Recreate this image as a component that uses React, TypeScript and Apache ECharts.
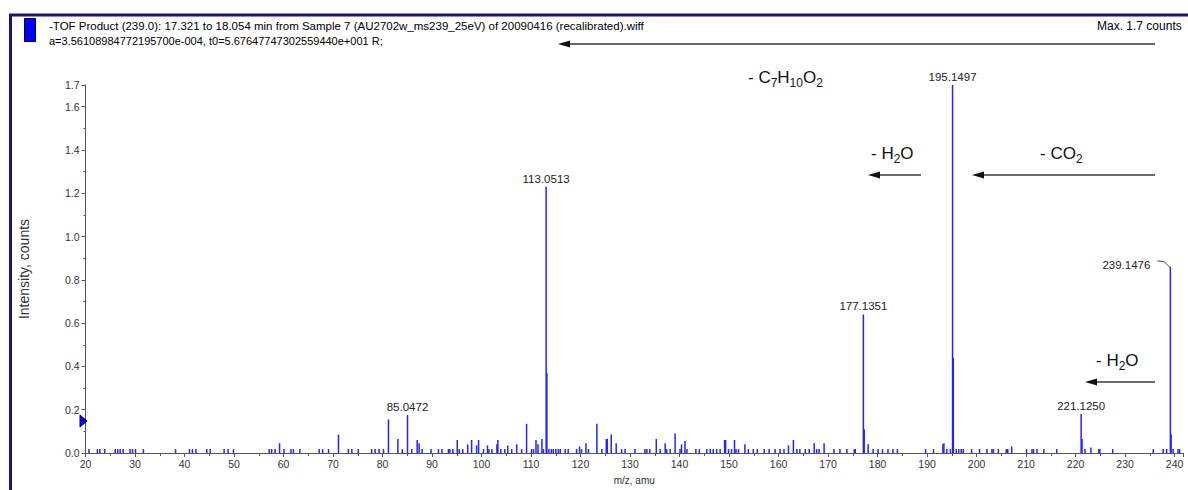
import React, { useEffect, useRef } from "react";
import * as echarts from "echarts";

// Product-ion spectrum of m/z 239.0 (TOF MS/MS)
const peakMz: number[] = [
  20.7, 22.4, 22.9, 23.9, 26.0, 26.5, 27.0, 27.6, 29.0, 29.5, 30.1, 31.7, 38.2,
  41.0, 41.6, 42.3, 44.5, 45.2, 48.0, 48.8, 49.9, 57.1, 57.6, 58.3, 59.2, 60.1,
  61.5, 62.0, 63.3, 67.2, 67.9, 69.1, 71.1, 73.1, 73.8, 75.1, 77.8, 78.5, 79.3,
  80.2, 81.2, 83.1, 84.0, 85.0472, 85.9, 87.0, 87.4, 88.0, 89.8, 91.3, 92.0,
  93.3, 93.6, 94.2, 95.1, 95.5, 96.2, 97.2, 98.0, 99.0, 99.4, 100.4, 101.2,
  101.5, 102.1, 103.1, 103.3, 103.9, 104.7, 105.3, 106.1, 107.1, 108.1, 109.1,
  110.1, 110.5, 111.0, 111.4, 112.2, 112.5, 113.0513, 113.2, 113.6, 114.1,
  114.5, 115.0, 115.5, 115.9, 116.9, 117.5, 119.2, 119.8, 120.2, 121.1, 121.6,
  123.3, 124.3, 125.2, 125.4, 126.2, 127.2, 128.3, 129.0, 131.0, 133.0, 133.4,
  134.0, 135.3, 136.1, 137.1, 137.4, 138.1, 139.1, 140.1, 140.4, 141.1, 141.5,
  143.3, 144.0, 145.5, 146.2, 146.8, 147.5, 148.2, 149.1, 149.3, 149.9, 150.5,
  151.1, 151.4, 151.9, 153.2, 153.9, 154.9, 155.7, 157.1, 158.1, 159.3, 160.3,
  161.1, 162.0, 163.0, 163.7, 164.3, 165.4, 166.2, 167.2, 167.7, 168.2, 169.2,
  171.2, 172.4, 173.8, 175.3, 175.5, 177.1351, 177.3, 178.1, 179.1, 180.1,
  181.0, 182.1, 183.1, 184.0, 189.7, 191.3, 193.2, 193.4, 194.0, 194.7,
  195.1497, 195.3, 195.9, 196.4, 196.9, 197.3, 199.0, 200.6, 202.1, 203.1,
  203.4, 204.4, 206.0, 206.3, 207.1, 210.1, 211.2, 211.5, 212.2, 213.6, 216.2,
  221.125, 221.3, 221.9, 223.1, 224.7, 224.9, 227.5, 235.7, 237.7, 238.4,
  239.1476, 239.3, 239.7, 240.7, 241.0,
];

const peakIntensity: number[] = [
  0.018, 0.018, 0.018, 0.018, 0.018, 0.018, 0.018, 0.018, 0.018, 0.018, 0.018, 0.018, 0.018,
  0.018, 0.018, 0.018, 0.018, 0.018, 0.018, 0.018, 0.018, 0.018, 0.018, 0.018, 0.045, 0.018,
  0.018, 0.018, 0.018, 0.018, 0.018, 0.018, 0.085, 0.018, 0.018, 0.018, 0.018, 0.018, 0.018,
  0.018, 0.155, 0.065, 0.018, 0.175, 0.018, 0.06, 0.045, 0.018, 0.018, 0.018, 0.018,
  0.018, 0.018, 0.018, 0.06, 0.018, 0.018, 0.04, 0.06, 0.035, 0.06, 0.018, 0.035,
  0.018, 0.018, 0.04, 0.06, 0.018, 0.018, 0.035, 0.018, 0.04, 0.018, 0.135,
  0.018, 0.018, 0.06, 0.04, 0.065, 0.018, 1.23, 0.37, 0.018, 0.018,
  0.018, 0.018, 0.018, 0.018, 0.018, 0.018, 0.018, 0.03, 0.018, 0.045, 0.018,
  0.135, 0.018, 0.065, 0.065, 0.085, 0.045, 0.018, 0.018, 0.018, 0.018, 0.018,
  0.018, 0.065, 0.018, 0.045, 0.018, 0.018, 0.09, 0.018, 0.04, 0.055, 0.018,
  0.018, 0.018, 0.018, 0.018, 0.018, 0.018, 0.018, 0.06, 0.06, 0.018, 0.018,
  0.06, 0.018, 0.018, 0.04, 0.018, 0.018, 0.018, 0.018, 0.018, 0.018, 0.018,
  0.018, 0.035, 0.06, 0.018, 0.018, 0.018, 0.018, 0.045, 0.018, 0.018, 0.045,
  0.018, 0.018, 0.018, 0.018, 0.018, 0.64, 0.11, 0.04, 0.018, 0.018,
  0.018, 0.018, 0.018, 0.018, 0.018, 0.018, 0.04, 0.045, 0.018, 0.018,
  1.7, 0.44, 0.018, 0.018, 0.018, 0.018, 0.018, 0.018, 0.018, 0.018,
  0.018, 0.018, 0.018, 0.018, 0.03, 0.018, 0.018, 0.018, 0.018, 0.018, 0.018,
  0.18, 0.065, 0.018, 0.025, 0.018, 0.018, 0.018, 0.018, 0.018, 0.018,
  0.86, 0.085, 0.018, 0.018, 0.018,
];

// Peaks annotated with their accurate mass
const labeledMz: number[] = [85.0472, 113.0513, 177.1351, 195.1497, 221.125, 239.1476];

const headerLine1 =
  "-TOF Product (239.0): 17.321 to 18.054 min from Sample 7 (AU2702w_ms239_25eV) of 20090416 (recalibrated).wiff";
const headerLine2 = "a=3.56108984772195700e-004, t0=5.67647747302559440e+001 R;";
const maxText = "Max. 1.7 counts";

// Neutral-loss formulas: [text, subscript?]
const lossC7H10O2: [string, boolean][] = [["- C", false], ["7", true], ["H", false], ["10", true], ["O", false], ["2", true]];
const lossH2O: [string, boolean][] = [["- H", false], ["2", true], ["O", false]];
const lossCO2: [string, boolean][] = [["- CO", false], ["2", true]];

const FONT = 'Arial, "Liberation Sans", sans-serif';
const ARROW = "#3a3a3a";

function arrow(x1: number, x2: number, y: number) {
  // shaft from x2 (right) to the head at x1 (left)
  return [
    { type: "line", shape: { x1: x1 + 8, y1: y, x2, y2: y }, style: { stroke: ARROW, lineWidth: 1.6 } },
    {
      type: "polygon",
      shape: { points: [[x1, y], [x1 + 12, y - 3.5], [x1 + 12, y + 3.5]] },
      style: { fill: "#111" },
    },
  ];
}

const measureCtx = document.createElement("canvas").getContext("2d");

function formula(parts: [string, boolean][], x: number, y: number) {
  const els: any[] = [];
  let cx = x;
  for (const [t, sub] of parts) {
    const size = sub ? 12 : 17;
    els.push({
      type: "text",
      x: cx,
      y: sub ? y + 6 : y,
      style: { text: t, fill: "#111", fontSize: size, fontFamily: FONT, verticalAlign: "middle" },
    });
    let w = t.length * size * 0.6;
    if (measureCtx) {
      measureCtx.font = `${size}px ${FONT}`;
      w = measureCtx.measureText(t).width;
    }
    cx += w;
  }
  return els;
}

export default function App() {
  const ref = useRef<HTMLDivElement>(null);

  useEffect(() => {
    if (!ref.current) return;
    const chart = echarts.init(ref.current, undefined, { renderer: "svg" });

    const data = peakMz.map((m, i) => {
      const v = [m, peakIntensity[i]];
      if (!labeledMz.includes(m)) return v;
      const isParent = m === 239.1476;
      return {
        value: v,
        label: {
          show: true,
          position: "top",
          distance: 2,
          offset: isParent ? [-44, 6] : [0, 0],
          formatter: () => m.toFixed(4),
          color: "#222",
          fontSize: 11.5,
          fontFamily: FONT,
        },
      };
    });

    const baseGraphic: any[] = [
      // instrument window frame
      {
        type: "rect",
        shape: { x: 10.5, y: 15, width: 1200, height: 500 },
        style: { fill: "none", stroke: "#14147a", lineWidth: 3 },
        z: 10,
      },
      {
        type: "rect",
        shape: { x: 24.5, y: 18.5, width: 11, height: 23 },
        style: { fill: "#0000ff", stroke: "#000050", lineWidth: 1 },
      },
      {
        type: "text",
        x: 49,
        y: 26,
        style: { text: headerLine1, fill: "#000", fontSize: 11.5, fontFamily: FONT, verticalAlign: "middle" },
      },
      {
        type: "text",
        x: 49,
        y: 41,
        style: { text: headerLine2, fill: "#000", fontSize: 11, fontFamily: FONT, verticalAlign: "middle" },
      },
      {
        type: "text",
        x: 1097,
        y: 26,
        style: { text: maxText, fill: "#000", fontSize: 12, fontFamily: FONT, verticalAlign: "middle" },
      },
      ...arrow(558, 1155, 44),
      // neutral losses
      ...formula(lossC7H10O2, 748, 77),
      ...formula(lossH2O, 871, 153),
      ...arrow(868, 921, 175),
      ...formula(lossCO2, 1040, 153),
      ...arrow(972, 1155, 175),
      ...formula(lossH2O, 1096, 360),
      ...arrow(1085, 1155, 382),
      // threshold marker on the intensity axis
      {
        type: "polygon",
        shape: { points: [[80, 415], [87, 421], [80, 427]] },
        style: { fill: "#0000ff", stroke: "#000060", lineWidth: 1 },
        z: 20,
      },
    ];

    const option: any = {
      animation: false,
      backgroundColor: "#fff",
      grid: { left: 85.5, right: 5, top: 85, bottom: 34, containLabel: false },
      xAxis: {
        type: "value",
        min: 20,
        max: 241.7,
        interval: 10,
        name: "m/z, amu",
        nameLocation: "middle",
        nameGap: 22,
        nameTextStyle: { color: "#333", fontSize: 10, fontFamily: FONT },
        axisLine: { show: true, lineStyle: { color: "#555", width: 1 } },
        axisTick: { show: true, length: 4, lineStyle: { color: "#555" } },
        minorTick: { show: true, splitNumber: 2, length: 3, lineStyle: { color: "#555" } },
        axisLabel: {
          color: "#333",
          fontSize: 10.5,
          fontFamily: FONT,
          margin: 5,
          formatter: (v: number) => (Math.abs(v % 10) < 1e-6 ? String(Math.round(v)) : ""),
        },
        splitLine: { show: false },
      },
      yAxis: {
        type: "value",
        min: 0,
        max: 1.7,
        interval: 0.2,
        name: "Intensity, counts",
        nameLocation: "middle",
        nameRotate: 90,
        nameGap: 55,
        nameTextStyle: { color: "#333", fontSize: 14, fontFamily: FONT },
        axisLine: { show: true, lineStyle: { color: "#555", width: 1 } },
        axisTick: { show: true, length: 4, lineStyle: { color: "#555" } },
        minorTick: { show: true, splitNumber: 2, length: 2, lineStyle: { color: "#555" } },
        axisLabel: {
          color: "#333",
          fontSize: 10.5,
          fontFamily: FONT,
          margin: 6,
          formatter: (v: number) => v.toFixed(1),
        },
        splitLine: { show: false },
      },
      series: [
        {
          type: "bar",
          data,
          barWidth: 1.5,
          itemStyle: { color: "#2424ff" },
          clip: false,
        },
      ],
      graphic: baseGraphic,
    };

    chart.setOption(option);

    // leader from the precursor label down to its peak
    const top = chart.convertToPixel({ xAxisIndex: 0, yAxisIndex: 0 }, [239.1476, 0.86]) as number[];
    if (top) {
      chart.setOption({
        graphic: [
          ...baseGraphic,
          {
            type: "polyline",
            shape: {
              points: [
                [top[0] - 13, top[1] - 6],
                [top[0] - 6, top[1] - 5],
                [top[0], top[1] + 1],
              ],
            },
            style: { stroke: "#444", lineWidth: 1, fill: "none" },
          },
        ],
      });
    }

    return () => chart.dispose();
  }, []);

  return (
    <div
      ref={ref}
      style={{ position: "absolute", left: 0, top: 0, width: 1188, height: 490, background: "#fff" }}
    />
  );
}
